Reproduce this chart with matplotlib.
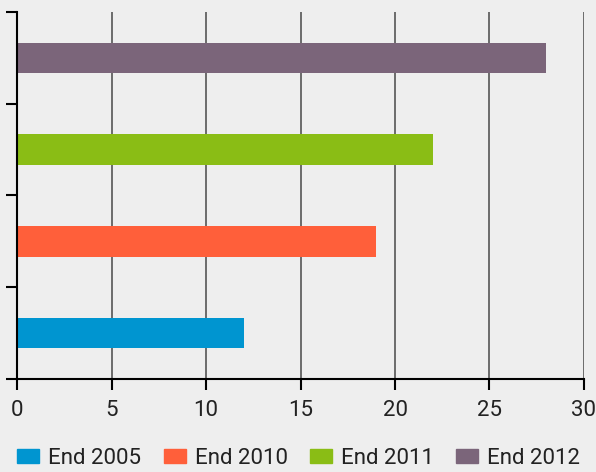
import matplotlib.pyplot as plt
from matplotlib.patches import Patch

labels = ['End 2005', 'End 2010', 'End 2011', 'End 2012']
values = [12, 19, 22, 28]
colors = ['#0095d0', '#ff5f3a', '#8abd15', '#7b657a']
xticks = [0, 5, 10, 15, 20, 25, 30]

bg = '#eeeeee'
plt.rcParams['font.family'] = ['Roboto', 'DejaVu Sans']

fig = plt.figure(figsize=(5.96, 4.72), dpi=100, facecolor=bg)
ax = fig.add_axes([17/596, 1 - 379/472, 567/596, 367/472], facecolor=bg)

ax.barh(range(len(values)), values, height=0.33, color=colors, zorder=3)

ax.set_xlim(0, 30)
ax.set_ylim(-0.5, len(values) - 0.5)
ax.set_xticks(xticks)
ax.set_xticklabels([str(t) for t in xticks], fontsize=16, color='#222222')
ax.set_yticks([i - 0.5 for i in range(len(values) + 1)])
ax.set_yticklabels([])
ax.tick_params(axis='both', length=8, width=1.5, color='black', direction='out')
ax.tick_params(axis='x', pad=7)
ax.grid(axis='x', color='#555555', linewidth=1.2, zorder=1)
ax.grid(axis='y', visible=False)
for s in ['top', 'right']:
    ax.spines[s].set_visible(False)
for s in ['left', 'bottom']:
    ax.spines[s].set_linewidth(1.5)
    ax.spines[s].set_zorder(4)

handles = [Patch(color=c, label=l) for c, l in zip(colors, labels)]
fig.legend(handles=handles, loc='lower left', bbox_to_anchor=(15/596, 0.002), ncol=4,
           frameon=False, fontsize=16, handlelength=1.0, handleheight=0.65,
           handletextpad=0.4, columnspacing=1.0, borderpad=0.1, borderaxespad=0,
           labelcolor='#222222')

fig.savefig('out.png', dpi=100, facecolor=bg)
